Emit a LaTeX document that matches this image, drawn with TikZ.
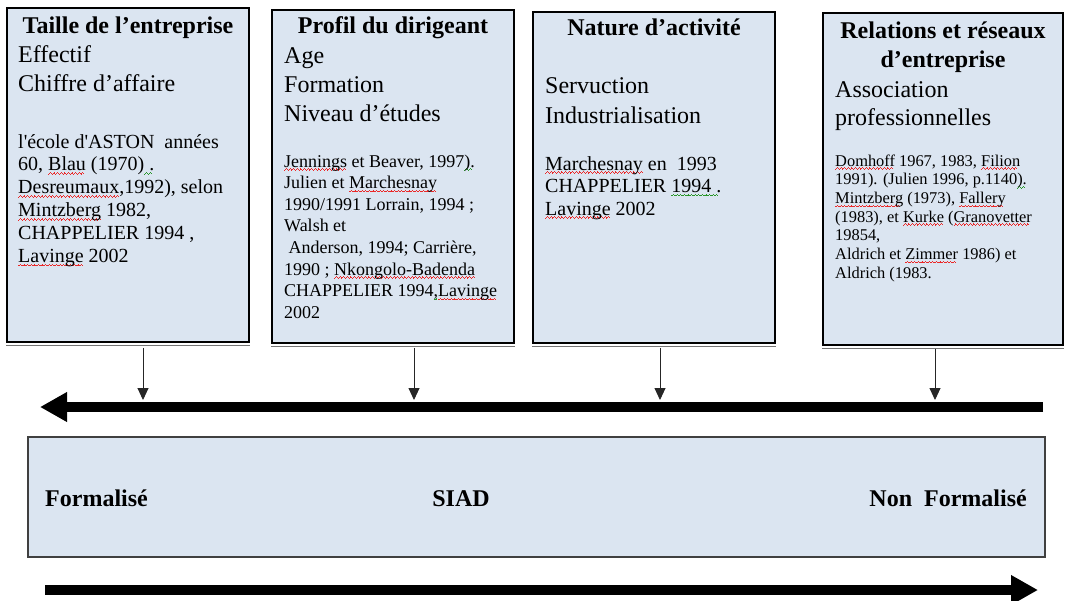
\documentclass[tikz,border=0pt]{standalone}
\usepackage{fontspec}
\setmainfont{Liberation Serif}[Ligatures=TeXOff]
\usetikzlibrary{arrows.meta,calc}
\definecolor{boxfill}{RGB}{219,229,241}
\definecolor{wavegreen}{RGB}{40,150,40}
\definecolor{wavered}{RGB}{235,40,40}
\newsavebox{\sqbox}
\newcommand\sqw[2]{\leavevmode\sbox{\sqbox}{#2}\rlap{\textcolor{#1}{\leaders\hbox{\rule[-3.6pt]{0.9pt}{0.8pt}\rule[-2.9pt]{0.9pt}{0.8pt}\rule[-2.1pt]{0.9pt}{0.8pt}\rule[-2.9pt]{0.9pt}{0.8pt}}\hskip\wd\sqbox}}\usebox{\sqbox}}
\newcommand\rw[1]{\sqw{wavered}{#1}}
\newcommand\gw[1]{\sqw{wavegreen}{#1}}
\begin{document}
\begin{tikzpicture}[x=1pt,y=-1pt,
  box/.style={draw=black, line width=1.6pt, fill=boxfill, inner sep=0pt},
  shadowline/.style={draw=black!55, line width=1pt},
  ttl/.style={font=\fontsize{24}{24}\selectfont\bfseries, anchor=base, inner sep=0pt},
  big/.style={font=\fontsize{24}{24}\selectfont, anchor=base west, inner sep=0pt},
  citeA/.style={font=\fontsize{20}{20}\selectfont, anchor=base west, inner sep=0pt},
  citeB/.style={font=\fontsize{18}{18}\selectfont, anchor=base west, inner sep=0pt},
  citeC/.style={font=\fontsize{16.4}{16.4}\selectfont, anchor=base west, inner sep=0pt},
  lbl/.style={font=\fontsize{24}{24}\selectfont\bfseries, inner sep=0pt},
  downarrow/.style={draw=black!85, line width=0.9pt, -{Triangle[length=12pt,width=11pt]}},
  bigarrow/.style={draw=black, line width=10pt, -{Triangle[length=27pt,width=28pt]}}]
\useasboundingbox (0,0) rectangle (1065,600);

% boxes
\node[box, minimum width=242pt, minimum height=334pt] (b1) at (128,175) {};
\node[box, minimum width=242pt, minimum height=333pt] (b2) at (393,176.5) {};
\node[box, minimum width=242pt, minimum height=331pt] (b3) at (654,177.5) {};
\node[box, minimum width=240pt, minimum height=332pt] (b4) at (943,179) {};
\foreach \b in {b1,b2,b3,b4}
  \draw[shadowline] ([yshift=-3pt]\b.south west) -- ([yshift=-3pt]\b.south east);

% box 1
\node[ttl] (b1h) at (128,33) {Taille de l’entreprise};
\node[big] (b1a) at (18,62) {Effectif};
\node[big] (b1b) at (18,91) {Chiffre d’affaire};
\foreach \t [count=\i from 0] in {
  {l'école d'ASTON~ années},
  {60, \rw{Blau} (1970)\gw{ .}},
  {\rw{Desreumaux},1992), selon},
  {\rw{Mintzberg} 1982,},
  {CHAPPELIER 1994 ,},
  {\rw{Lavinge} 2002}}
  \node[citeA] (b1c\i) at (18,{148+22.9*\i}) {\t};

% box 2
\node[ttl] (b2h) at (393,33) {Profil du dirigeant};
\node[big] (b2a) at (284,63) {Age};
\node[big] (b2b) at (284,92) {Formation};
\node[big] (b2c) at (284,121) {Niveau d’études};
\foreach \t [count=\i from 0] in {
  {\rw{Jennings} et Beaver, 1997\gw{).}},
  {Julien et \rw{Marchesnay}},
  {1990/1991 Lorrain, 1994 ;},
  {Walsh et},
  {\hspace*{4.5pt}Anderson, 1994; Carrière,},
  {1990 ; \rw{Nkongolo-Badenda}},
  {CHAPPELIER 1994\gw{,}\rw{Lavinge}},
  {2002}}
  \node[citeB] (b2c\i) at (284,{167+21.6*\i}) {\t};

% box 3
\node[ttl] (b3h) at (654,35) {Nature d’activité};
\node[big] (b3a) at (545,93) {Servuction};
\node[big] (b3b) at (545,123) {Industrialisation};
\foreach \t [count=\i from 0] in {
  {\rw{Marchesnay} en~ 1993},
  {CHAPPELIER \gw{1994 .}},
  {\rw{Lavinge} 2002}}
  \node[citeA] (b3c\i) at (545,{170+22.5*\i}) {\t};

% box 4
\node[ttl] (b4h) at (943,38) {Relations et réseaux};
\node[ttl] (b4i) at (943,67) {d’entreprise};
\node[big] (b4a) at (835,97) {Association};
\node[big] (b4b) at (835,125) {professionnelles};
\foreach \t [count=\i from 0] in {
  {\rw{Domhoff} 1967, 1983, \rw{Filion}},
  {1991). (Julien 1996, p.1140\gw{).}},
  {\rw{Mintzberg} (1973), \rw{Fallery}},
  {(1983), et \rw{Kurke} (\rw{Granovetter}},
  {19854,},
  {Aldrich et \rw{Zimmer} 1986) et},
  {Aldrich (1983.}}
  \node[citeC] (b4c\i) at (835,{166+18.7*\i}) {\t};

% big left arrow
\coordinate (la) at (1043,407);
\coordinate (lb) at (40,407);
\draw[bigarrow] (la) -- (lb);

% thin arrows
\coordinate (t1) at (143,400);
\coordinate (t2) at (414,400);
\coordinate (t3) at (660,400);
\coordinate (t4) at (935,400);
\draw[downarrow] ($(b1.south -| t1)+(0,5)$) -- (t1);
\draw[downarrow] ($(b2.south -| t2)+(0,4)$) -- (t2);
\draw[downarrow] ($(b3.south -| t3)+(0,4)$) -- (t3);
\draw[downarrow] ($(b4.south -| t4)+(0,3)$) -- (t4);

% bottom box
\node[draw=black!75, line width=1.1pt, fill=boxfill, minimum width=1017pt, minimum height=120pt, inner sep=0pt] (sb) at (536.5,497) {};
\node[lbl, anchor=base west] (f1) at (45,506) {Formalisé};
\node[lbl, anchor=base] (f2) at (461,506) {SIAD};
\node[lbl, anchor=base east] (f3) at (1027,506) {Non~ Formalisé};

% big right arrow
\coordinate (ra) at (45,590);
\coordinate (rb) at (1038,590);
\draw[bigarrow] (ra) -- (rb);
\end{tikzpicture}
\end{document}
